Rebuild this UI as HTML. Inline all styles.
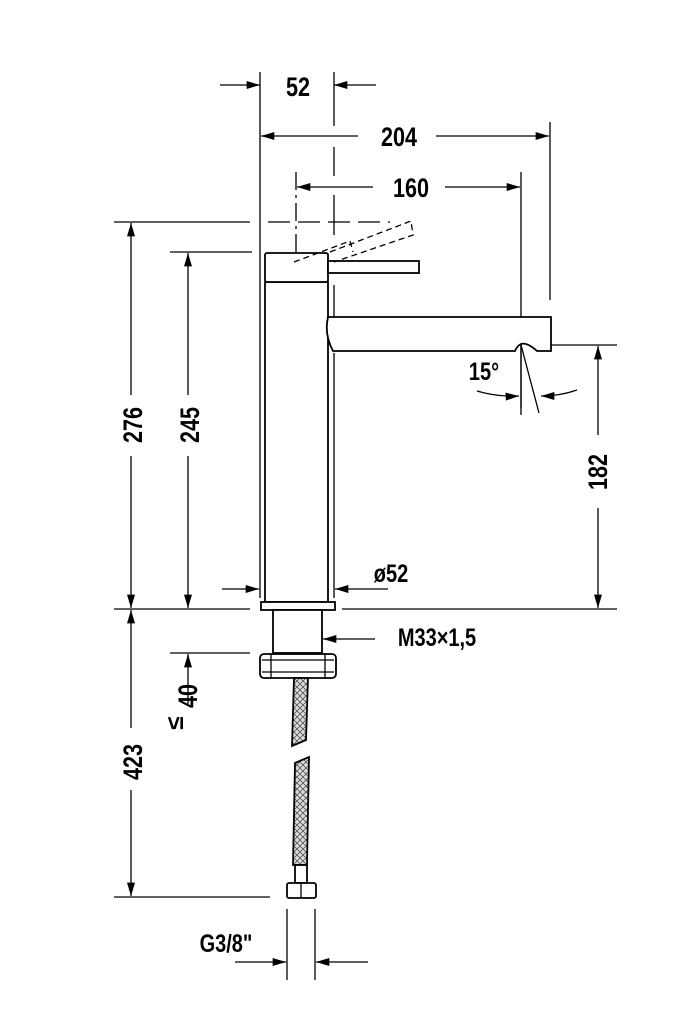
<!DOCTYPE html>
<html><head><meta charset="utf-8"><style>
html,body{margin:0;padding:0;background:#fff;}
svg{display:block;}
text{font-family:"Liberation Sans",sans-serif;font-weight:bold;fill:#000;}
</style></head><body>
<svg width="699" height="1024" viewBox="0 0 699 1024" xmlns="http://www.w3.org/2000/svg">
<defs>
<marker id="a" viewBox="0 0 10 6" refX="10" refY="3" markerWidth="14" markerHeight="8" markerUnits="userSpaceOnUse" orient="auto"><path d="M0,0L10,3L0,6z" fill="#000"/></marker>
<pattern id="h" width="6" height="6" patternUnits="userSpaceOnUse"><rect width="6" height="6" fill="#ddd"/><path d="M0,0L6,6M6,0L0,6" stroke="#555" stroke-width="0.8"/></pattern>
</defs>
<g stroke="#000" stroke-width="1.3" fill="none">
<line x1="260" y1="72" x2="260" y2="598"/>
<line x1="334" y1="72" x2="334" y2="126"/>
<line x1="334" y1="147" x2="334" y2="176"/>
<line x1="334" y1="195" x2="334" y2="235"/>
<line x1="334" y1="285" x2="334" y2="318"/>
<line x1="334" y1="353" x2="334" y2="598"/>
<line x1="550" y1="122" x2="550" y2="300"/>
<line x1="521" y1="172" x2="521" y2="408"/>
<line x1="296" y1="172" x2="296" y2="600" stroke-dasharray="18,5,3,5"/>
<line x1="296" y1="612" x2="296" y2="670" stroke-dasharray="10,4"/>
<line x1="220" y1="85" x2="260" y2="85" marker-end="url(#a)"/>
<line x1="376" y1="85" x2="334" y2="85" marker-end="url(#a)"/>
<line x1="358" y1="136" x2="261" y2="136" marker-end="url(#a)"/>
<line x1="436" y1="136" x2="549" y2="136" marker-end="url(#a)"/>
<line x1="373" y1="187" x2="297" y2="187" marker-end="url(#a)"/>
<line x1="445" y1="187" x2="520" y2="187" marker-end="url(#a)"/>
<line x1="114" y1="222" x2="250" y2="222"/>
<line x1="268" y1="222" x2="390" y2="222" stroke-dasharray="22,8"/>
<line x1="170" y1="252" x2="252" y2="252"/>
<line x1="131" y1="395" x2="131" y2="223" marker-end="url(#a)"/>
<line x1="131" y1="456" x2="131" y2="608" marker-end="url(#a)"/>
<line x1="188" y1="395" x2="188" y2="253" marker-end="url(#a)"/>
<line x1="188" y1="456" x2="188" y2="608" marker-end="url(#a)"/>
<line x1="114" y1="609" x2="250" y2="609"/>
<line x1="342" y1="609" x2="617" y2="609"/>
<line x1="131" y1="728" x2="131" y2="610" marker-end="url(#a)"/>
<line x1="131" y1="790" x2="131" y2="896" marker-end="url(#a)"/>
<line x1="114" y1="897" x2="270" y2="897"/>
<line x1="170" y1="653" x2="250" y2="653"/>
<line x1="188" y1="705" x2="188" y2="654" marker-end="url(#a)"/>
<line x1="530" y1="345" x2="617" y2="345"/>
<line x1="598" y1="435" x2="598" y2="346" marker-end="url(#a)"/>
<line x1="598" y1="508" x2="598" y2="608" marker-end="url(#a)"/>
<line x1="222" y1="589" x2="259" y2="589" marker-end="url(#a)"/>
<line x1="388" y1="589" x2="335" y2="589" marker-end="url(#a)"/>
<line x1="375" y1="639" x2="323" y2="639" marker-end="url(#a)"/>
<line x1="287" y1="909" x2="287" y2="980"/>
<line x1="315" y1="909" x2="315" y2="980"/>
<line x1="235" y1="962" x2="286" y2="962" marker-end="url(#a)"/>
<line x1="368" y1="962" x2="316" y2="962" marker-end="url(#a)"/>
<line x1="521" y1="345" x2="521" y2="415"/>
<line x1="521" y1="345" x2="539" y2="413"/>
<path d="M477,391 Q497,397 519,396" marker-end="url(#a)"/>
<path d="M577,390 Q560,396 541,396" marker-end="url(#a)"/>
</g>
<g stroke="#000" stroke-width="1.8" fill="#fff">
<rect x="265" y="282" width="63" height="320"/>
<rect x="265" y="253" width="63" height="29" rx="2"/>
<rect x="328" y="261" width="91" height="12"/>
<path d="M328,317 L551,317 L551,351 L537,351 Q527,342 521,344 Q517,346 515,351 L333,351 Q324,334 328,317 Z"/>
<rect x="261" y="602" width="74" height="8"/>
<rect x="273" y="610" width="49" height="43"/>
<rect x="260" y="654" width="76" height="24" rx="4"/>
<path d="M294,678 L308,678 L306,740 L292,746 Z" fill="url(#h)"/>
<path d="M295,763 L309,757 L307,865 L293,865 Z" fill="url(#h)"/>
<rect x="295" y="865" width="12" height="18"/>
<rect x="287" y="883" width="29" height="15" rx="2"/>
</g>
<g stroke="#000" stroke-width="1.3" fill="none">
<line x1="262" y1="660" x2="334" y2="660"/>
<line x1="262" y1="672" x2="334" y2="672"/>
<line x1="271" y1="654" x2="271" y2="678"/><line x1="325" y1="654" x2="325" y2="678"/>
<line x1="301" y1="883" x2="301" y2="898"/>
<path d="M294,262 L350,241 L353,252 M330,252 L411,221 L413,235 L334,262" stroke-dasharray="6,4"/>
</g>
<g font-size="27" text-anchor="middle">
<text transform="translate(298,96) scale(0.8,1)">52</text>
<text transform="translate(399,146) scale(0.8,1)">204</text>
<text transform="translate(411,197) scale(0.8,1)">160</text>
<text transform="translate(484,380) scale(0.8,1)" font-size="25">15°</text>
<text transform="translate(391,582) scale(0.8,1)" font-size="25">ø52</text>
<text transform="translate(437,646) scale(0.8,1)" font-size="25">M33×1,5</text>
<text transform="translate(226,952) scale(0.8,1)" font-size="25">G3/8"</text>
<text transform="translate(142,425) rotate(-90) scale(0.8,1)">276</text>
<text transform="translate(199,425) rotate(-90) scale(0.8,1)">245</text>
<text transform="translate(142,762) rotate(-90) scale(0.8,1)">423</text>
<text transform="translate(607,472) rotate(-90) scale(0.8,1)">182</text>
<text transform="translate(197,696) rotate(-90) scale(0.8,1)">40</text>
<text transform="translate(183,723) rotate(-90)" font-size="24" font-weight="normal">≤</text>
</g>
</svg>
</body></html>
